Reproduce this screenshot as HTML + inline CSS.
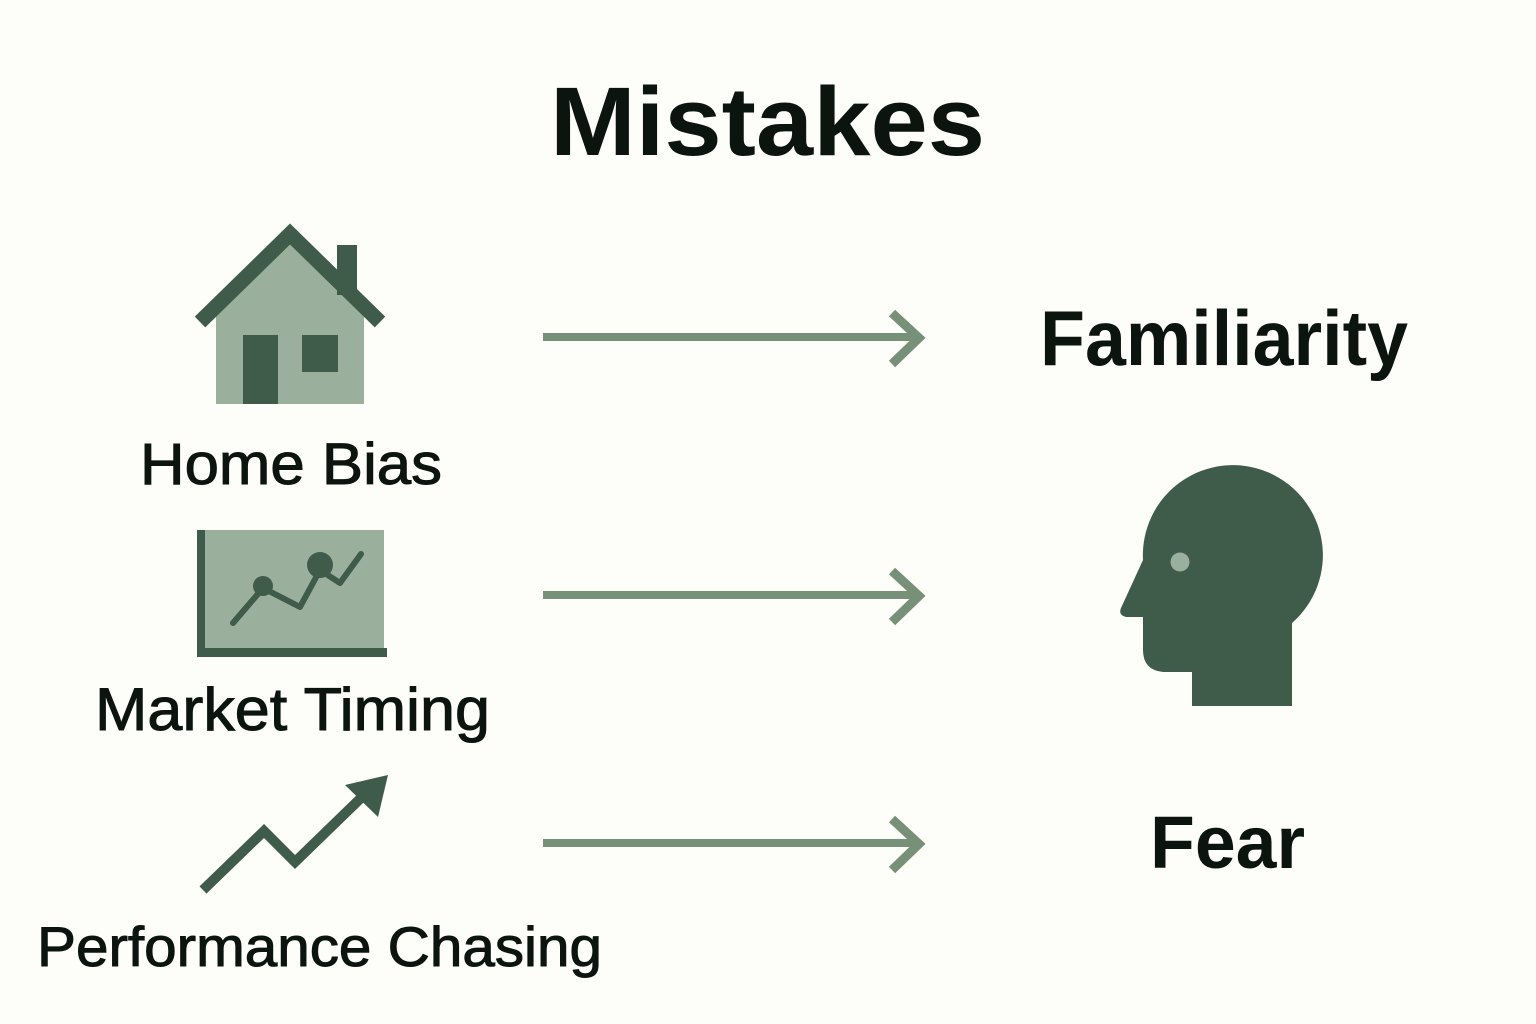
<!DOCTYPE html>
<html><head><meta charset="utf-8"><style>
html,body{margin:0;padding:0;background:#fdfdf9;}
svg{display:block}
text{font-family:"Liberation Sans",sans-serif;fill:#0c1410;}
.lbl{stroke:#0c1410;stroke-width:1;}
</style></head><body>
<svg width="1536" height="1024" viewBox="0 0 1536 1024" xmlns="http://www.w3.org/2000/svg">
<rect width="1536" height="1024" fill="#fdfdf9"/>
<text x="550" y="155" font-size="97" font-weight="bold" textLength="435" lengthAdjust="spacingAndGlyphs">Mistakes</text>

<!-- House -->
<polygon points="216,404 216,300 290,238 364,300 364,404" fill="#9ab09c"/>
<rect x="337" y="245" width="20" height="50" fill="#3f5b49"/>
<polyline points="200,322 290,234 380,322" fill="none" stroke="#3f5b49" stroke-width="15" stroke-linejoin="miter"/>
<rect x="243" y="335" width="35" height="69" fill="#3f5b49"/>
<rect x="302" y="335" width="36" height="37" fill="#3f5b49"/>
<text class="lbl" x="140" y="484" font-size="58" textLength="302" lengthAdjust="spacingAndGlyphs">Home Bias</text>

<!-- Chart -->
<rect x="197" y="530" width="187" height="126" fill="#9ab09c"/>
<rect x="197" y="530" width="8" height="127" fill="#3f5b49"/>
<rect x="197" y="648" width="190" height="9" fill="#3f5b49"/>
<polyline points="233,623 263,588 300,607 320,570 340,583 361,554" fill="none" stroke="#3f5b49" stroke-width="6" stroke-linejoin="round" stroke-linecap="round"/>
<circle cx="263" cy="586" r="10" fill="#3f5b49"/>
<circle cx="320" cy="565" r="13" fill="#3f5b49"/>
<text class="lbl" x="95" y="730" font-size="60" textLength="395" lengthAdjust="spacingAndGlyphs">Market Timing</text>

<!-- Performance arrow -->
<polyline points="203,890 264,831 295,862 362,797" fill="none" stroke="#3f5b49" stroke-width="10" stroke-linejoin="miter"/>
<polygon points="388,775 345,785 378,817" fill="#3f5b49"/>
<text class="lbl" x="37" y="966" font-size="56" textLength="565" lengthAdjust="spacingAndGlyphs">Performance Chasing</text>

<!-- Arrows -->
<g stroke="#769178" stroke-width="8" fill="none">
<line x1="543" y1="337" x2="918" y2="337"/>
<polyline points="892,313 919,338 892,364" stroke-width="9"/>
<line x1="543" y1="595" x2="918" y2="595"/>
<polyline points="892,571 919,596 892,622" stroke-width="9"/>
<line x1="543" y1="843" x2="918" y2="843"/>
<polyline points="892,819 919,844 892,870" stroke-width="9"/>
</g>

<text x="1040" y="365" font-size="78" font-weight="bold" textLength="368" lengthAdjust="spacingAndGlyphs">Familiarity</text>

<!-- Head -->
<path d="M1192,706 L1192,672 L1163,672 Q1143,670 1143,650 L1143,617 L1126,617 Q1118,615 1121,608 L1143,560 A90,90 0 1 1 1292,623 L1292,706 Z" fill="#3f5b49"/>
<circle cx="1180" cy="562" r="9.5" fill="#9ab09c"/>

<text x="1150" y="868" font-size="74" font-weight="bold" textLength="155" lengthAdjust="spacingAndGlyphs">Fear</text>
</svg>
</body></html>
